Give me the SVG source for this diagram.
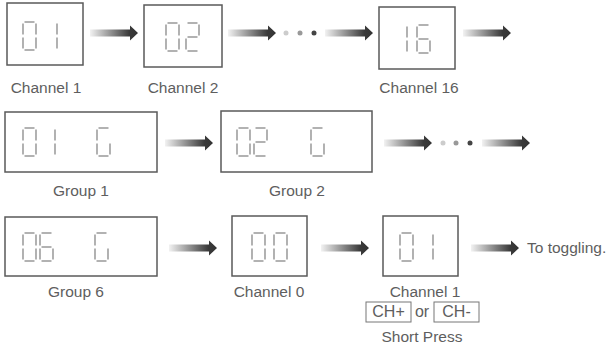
<svg xmlns="http://www.w3.org/2000/svg" xmlns:xlink="http://www.w3.org/1999/xlink" width="608" height="346" viewBox="0 0 608 346">
<style>
.box{fill:#fff;stroke:#5a5a5a;stroke-width:1.5}
.sbox{fill:#fff;stroke:#777;stroke-width:1}
.seg{stroke:#888;stroke-width:1.3;fill:none;stroke-linecap:butt}
.lbl{font-family:"Liberation Sans",Arial,sans-serif;font-size:15.5px;fill:#5e5e5e}
.big{font-size:16px}
.arrow{fill:url(#ag)}
</style>
<defs>
<linearGradient id="ag" x1="0" y1="0" x2="1" y2="0">
<stop offset="0" stop-color="#f2f2f2"/>
<stop offset="0.82" stop-color="#3a3a3a"/>
<stop offset="1" stop-color="#333"/>
</linearGradient>
<g id="sa"><line class="seg" x1="1.5" y1="0" x2="11.5" y2="0"/></g>
<g id="sb"><line class="seg" x1="13" y1="1.5" x2="13" y2="12.5"/></g>
<g id="sc"><line class="seg" x1="13" y1="15.5" x2="13" y2="26.5"/></g>
<g id="sd"><line class="seg" x1="1.5" y1="28" x2="11.5" y2="28"/></g>
<g id="se"><line class="seg" x1="0" y1="15.5" x2="0" y2="26.5"/></g>
<g id="sf"><line class="seg" x1="0" y1="1.5" x2="0" y2="12.5"/></g>
<g id="sg"><line class="seg" x1="1.5" y1="14" x2="11.5" y2="14"/></g>
<g id="d0"><use xlink:href="#sa"/><use xlink:href="#sb"/><use xlink:href="#sc"/><use xlink:href="#sd"/><use xlink:href="#se"/><use xlink:href="#sf"/></g>
<g id="d1"><use xlink:href="#sb"/><use xlink:href="#sc"/></g>
<g id="d2"><use xlink:href="#sa"/><use xlink:href="#sb"/><use xlink:href="#sg"/><use xlink:href="#se"/><use xlink:href="#sd"/></g>
<g id="d6"><use xlink:href="#sa"/><use xlink:href="#sf"/><use xlink:href="#sg"/><use xlink:href="#se"/><use xlink:href="#sd"/><use xlink:href="#sc"/></g>
<g id="dG"><use xlink:href="#sa"/><use xlink:href="#sf"/><use xlink:href="#se"/><use xlink:href="#sd"/><use xlink:href="#sc"/></g>
<path id="arr" d="M0,-3.5 H40 V-7.5 L48,0 L40,7.5 V3.5 H0 Z"/>
</defs>

<g id="ch1">
<rect class="box" x="7" y="3" width="76" height="62"/>
<use xlink:href="#d0" x="23" y="22"/><use xlink:href="#d1" x="44" y="22"/>
<text class="lbl" x="46" y="93" text-anchor="middle">Channel 1</text>
</g>
<g id="ch2">
<rect class="box" x="144" y="5" width="78" height="62"/>
<use xlink:href="#d0" x="166" y="23"/><use xlink:href="#d2" x="186" y="23"/>
<text class="lbl" x="183" y="93" text-anchor="middle">Channel 2</text>
</g>
<g id="ch16">
<rect class="box" x="379" y="7" width="76" height="62"/>
<use xlink:href="#d1" x="394" y="25"/><use xlink:href="#d6" x="417" y="25"/>
<text class="lbl" x="419" y="93" text-anchor="middle">Channel 16</text>
</g>

<g id="grp1">
<rect class="box" x="5" y="112" width="152" height="60"/>
<use xlink:href="#d0" x="23" y="128"/><use xlink:href="#d1" x="42" y="128"/><use xlink:href="#dG" x="97" y="128"/>
<text class="lbl" x="81" y="196" text-anchor="middle">Group 1</text>
</g>
<g id="grp2">
<rect class="box" x="221" y="111" width="151" height="61"/>
<use xlink:href="#d0" x="237" y="128"/><use xlink:href="#d2" x="254" y="128"/><use xlink:href="#dG" x="311" y="128"/>
<text class="lbl" x="297" y="196" text-anchor="middle">Group 2</text>
</g>

<g id="grp6">
<rect class="box" x="5" y="217" width="152" height="59"/>
<use xlink:href="#d0" x="23" y="233"/><use xlink:href="#d6" x="40" y="233"/><use xlink:href="#dG" x="95" y="233"/>
<text class="lbl" x="76" y="297" text-anchor="middle">Group 6</text>
</g>
<g id="ch0">
<rect class="box" x="232" y="216" width="75" height="60"/>
<use xlink:href="#d0" x="252" y="233"/><use xlink:href="#d0" x="274" y="233"/>
<text class="lbl" x="269" y="297" text-anchor="middle">Channel 0</text>
</g>
<g id="ch1b">
<rect class="box" x="383" y="216" width="75" height="60"/>
<use xlink:href="#d0" x="400" y="233"/><use xlink:href="#d1" x="420" y="233"/>
<text class="lbl" x="425" y="297" text-anchor="middle">Channel 1</text>
<rect class="sbox" x="366" y="302" width="45" height="20"/>
<text class="lbl big" x="388.5" y="317" text-anchor="middle">CH+</text>
<text class="lbl big" x="422" y="317" text-anchor="middle">or</text>
<rect class="sbox" x="434" y="302" width="45" height="20"/>
<text class="lbl big" x="456.5" y="317" text-anchor="middle">CH-</text>
<text class="lbl" x="422" y="342" text-anchor="middle">Short Press</text>
</g>
<g id="end">
<text class="lbl" x="527" y="253">To toggling.</text>
</g>

<g id="connectors">
<use class="arrow" xlink:href="#arr" x="90" y="33"/>
<use class="arrow" xlink:href="#arr" x="228" y="33"/>
<circle cx="286" cy="33" r="2.5" fill="#ccc"/>
<circle cx="300" cy="33" r="2.5" fill="#999"/>
<circle cx="314" cy="33" r="2.5" fill="#444"/>
<use class="arrow" xlink:href="#arr" x="325" y="33"/>
<use class="arrow" xlink:href="#arr" x="463" y="33"/>
<use class="arrow" xlink:href="#arr" x="165" y="143"/>
<use class="arrow" xlink:href="#arr" x="384" y="143"/>
<circle cx="443" cy="143" r="2.5" fill="#ccc"/>
<circle cx="456" cy="143" r="2.5" fill="#999"/>
<circle cx="470" cy="143" r="2.5" fill="#444"/>
<use class="arrow" xlink:href="#arr" x="482" y="143"/>
<use class="arrow" xlink:href="#arr" x="169" y="248"/>
<use class="arrow" xlink:href="#arr" x="321" y="248"/>
<use class="arrow" xlink:href="#arr" x="471" y="248"/>
</g>
</svg>
